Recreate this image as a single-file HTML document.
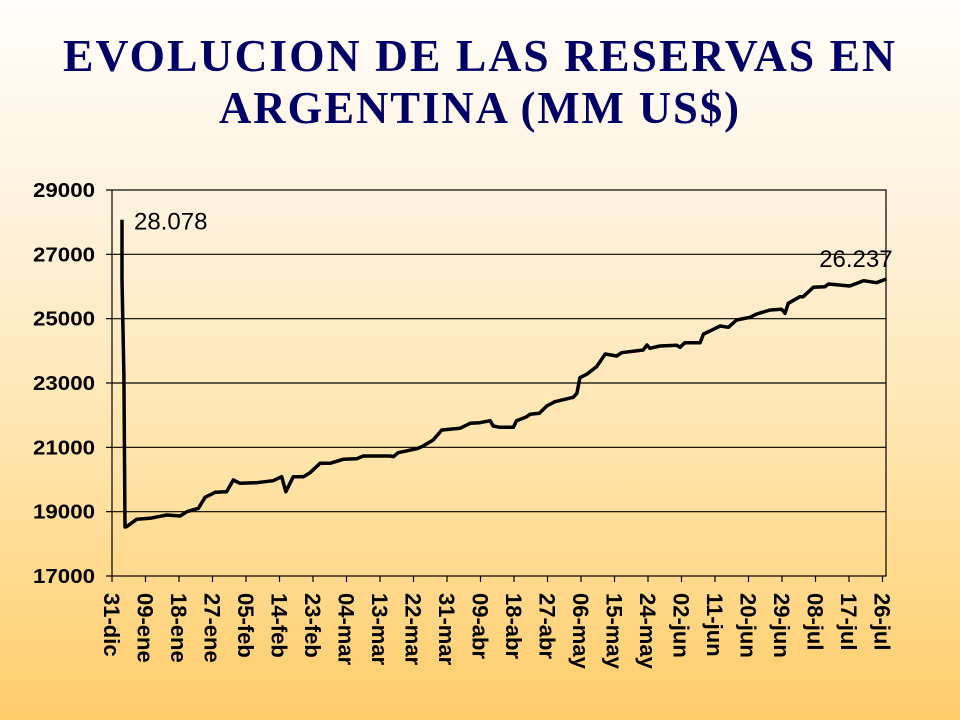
<!DOCTYPE html>
<html><head><meta charset="utf-8"><style>
html,body{margin:0;padding:0;width:960px;height:720px;overflow:hidden}
body{background:linear-gradient(to bottom,#fffefb 0%,#fff2dc 30%,#ffe3a8 65%,#ffcd6a 100%);font-family:"Liberation Sans",sans-serif}
</style></head><body>
<svg width="960" height="720" style="position:absolute;left:0;top:0">
<g font-family="Liberation Serif, serif" font-weight="bold" font-size="46" fill="#000066" text-anchor="middle" letter-spacing="2">
<text x="480" y="71" textLength="834" lengthAdjust="spacingAndGlyphs">EVOLUCION DE LAS RESERVAS EN</text>
<text x="480" y="123" textLength="522" lengthAdjust="spacingAndGlyphs">ARGENTINA (MM US$)</text>
</g>
<g id="grid"></g>
<g id="yaxis"></g>
<g id="xaxis"></g>
<g id="series"></g>
<g id="annot"></g>
</svg>
<script>
const yTicks = [17000,19000,21000,23000,25000,27000,29000];
const xLabels = ["31-dic","09-ene","18-ene","27-ene","05-feb","14-feb","23-feb","04-mar","13-mar","22-mar","31-mar","09-abr","18-abr","27-abr","06-may","15-may","24-may","02-jun","11-jun","20-jun","29-jun","08-jul","17-jul","26-jul"];
const days = [2.7,2.7,3.2,3.5,3.9,6.6,10.2,14.7,18.3,20.1,23.2,25.0,27.7,30.8,32.6,34.4,38.9,43.3,45.6,46.7,48.7,51.4,53.2,55.9,58.6,62.1,65.7,67.5,74.7,75.6,76.9,81.9,83.2,86.3,88.6,93.5,96.2,98.8,101.6,102.4,104.2,107.8,108.7,111.4,112.3,114.8,116.8,119.0,123.9,124.9,125.7,127.5,130.2,132.5,135.6,136.9,142.7,143.7,144.5,147.2,151.7,152.6,153.9,158.0,158.9,161.6,163.4,165.6,167.8,171.4,173.2,176.8,179.9,180.8,181.7,184.8,185.7,188.4,191.5,192.5,198.2,201.9,205.4,208.1];
const reserves = [28078,26203,23249,18523,18533,18763,18794,18896,18865,18999,19105,19447,19602,19621,19985,19882,19901,19963,20087,19621,20087,20087,20212,20504,20504,20628,20647,20731,20731,20709,20833,20958,21020,21228,21539,21592,21747,21766,21828,21664,21623,21623,21828,21953,22027,22058,22285,22419,22556,22680,23165,23271,23507,23902,23840,23942,24026,24182,24079,24151,24173,24110,24253,24253,24524,24670,24773,24732,24959,25043,25146,25270,25292,25168,25478,25683,25683,25976,25995,26078,26016,26181,26119,26237];
const annotations = [{label:"28.078", idx:0, anchor:"start", dx:12, dy:10},{label:"26.237", idx:83, anchor:"end", dx:6, dy:-12}];

const NS="http://www.w3.org/2000/svg";
const L=112,R=886,T=190,B=576,dayPx=33.5/9;
const yMin=17000,yMax=29000;
const x=d=>L+d*dayPx;
const y=v=>B-(v-yMin)/(yMax-yMin)*(B-T);
function mk(tag,attrs,parent){const e=document.createElementNS(NS,tag);for(const k in attrs)e.setAttribute(k,attrs[k]);parent.appendChild(e);return e;}
const grid=document.getElementById('grid'),ya=document.getElementById('yaxis'),xa=document.getElementById('xaxis'),se=document.getElementById('series'),an=document.getElementById('annot');
const frame=mk('rect',{x:L,y:T,width:R-L,height:B-T,fill:'none',stroke:'#000','stroke-width':1.2},grid);


yTicks.forEach(v=>{
  const yy=y(v);
  if(v>yMin&&v<yMax){const g=mk('line',{x1:L,x2:R,y1:yy,y2:yy,stroke:'#000','stroke-width':1.2},grid);
  
  }
  const tk=mk('line',{x1:L-6,x2:L,y1:yy,y2:yy,stroke:'#000','stroke-width':1.2},ya);
  
  
  const t=mk('text',{x:L-17,y:yy+7,'text-anchor':'end','font-size':20,'font-weight':'bold',fill:'#000',textLength:62,lengthAdjust:'spacingAndGlyphs'},ya);
  t.textContent=v;
  
  
});
xLabels.forEach((lab,i)=>{
  const xx=x(i*9);
  const tk=mk('line',{x1:xx,x2:xx,y1:B,y2:B+6,stroke:'#000','stroke-width':1.2},xa);
  
  
  const t=mk('text',{x:0,y:0,transform:`translate(${xx-8},593) rotate(90)`,'font-size':22,'font-weight':'bold',fill:'#000'},xa);
  t.textContent=lab;
  
  
});
const pts=days.map((d,i)=>x(d).toFixed(1)+','+y(reserves[i]).toFixed(1)).join(' ');
const line=mk('polyline',{points:pts,fill:'none',stroke:'#000','stroke-width':3.5,'stroke-linejoin':'round'},se);


annotations.forEach(a=>{
  const t=mk('text',{x:x(days[a.idx])+a.dx,y:y(reserves[a.idx])+a.dy,'text-anchor':a.anchor,'font-size':24,fill:'#000'},an);
  t.textContent=a.label;
  
  
});
</script>
</body></html>
